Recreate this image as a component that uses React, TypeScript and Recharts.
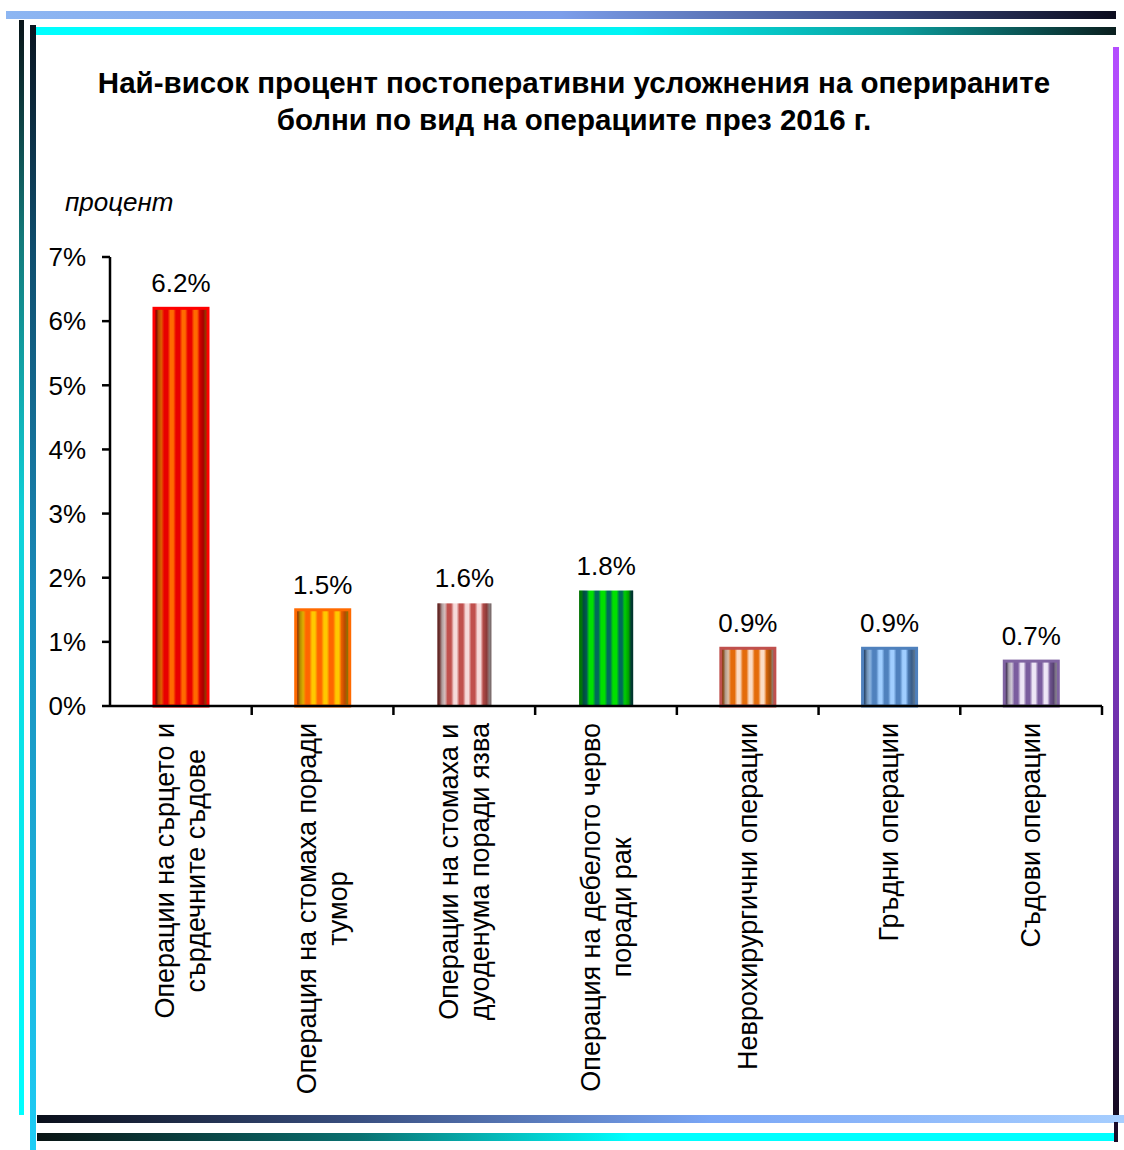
import React from 'react';
import { BarChart, Bar, XAxis, YAxis, LabelList } from 'recharts';

const FONT = '"Liberation Sans", Arial, sans-serif';

const categories = [
  'Операции на сърцето и\nсърдечните съдове',
  'Операция на стомаха поради\nтумор',
  'Операции на стомаха и\nдуоденума поради язва',
  'Операция на дебелото черво\nпоради рак',
  'Неврохирургични операции',
  'Гръдни операции',
  'Съдови операции',
];

// percent of operated patients with complications, 2016
const values = [6.2, 1.5, 1.6, 1.8, 0.9, 0.9, 0.7];

const yTicks = [0, 1, 2, 3, 4, 5, 6, 7];

const titleLines = [
  'Най-висок процент постоперативни усложнения на оперираните',
  'болни по вид на операциите през 2016 г.',
];
const yAxisTitle = 'процент';

// stripe colours per bar: [stripe A, stripe B, border]
const BAR_STYLES = [
  { a: '#E80000', b: '#FF6A00', stroke: '#FF0000' },
  { a: '#FF6600', b: '#FFC800', stroke: '#FF6A00' },
  { a: '#C0504D', b: '#F6DADA', stroke: null },
  { a: '#00E000', b: '#006A5A', stroke: null },
  { a: '#E46C0A', b: '#FBDCC4', stroke: '#C0504D' },
  { a: '#4F81BD', b: '#A0CEFF', stroke: '#4F81BD' },
  { a: '#7A5C9E', b: '#EEE6F6', stroke: '#8064A2' },
];

const data = categories.map((name, i) => ({ name, value: values[i] }));

const LABEL_SIZE = 27;
const LINE_H = 31;
const LABEL_GAP = 17;

let ctx: CanvasRenderingContext2D | null = null;
function textWidth(s: string) {
  if (!ctx && typeof document !== 'undefined') {
    ctx = document.createElement('canvas').getContext('2d');
  }
  if (!ctx) return s.length * 14;
  ctx.font = `${LABEL_SIZE}px ${FONT}`;
  return ctx.measureText(s).width;
}

// category label plus a tick mark at the right edge of the band
function CategoryTick({ x, y, payload }: any) {
  const lines = String(payload.value).split('\n');
  const maxW = Math.max(...lines.map(textWidth));
  const along = -(LABEL_GAP + maxW / 2);
  const half = payload.offset ?? 0;
  return (
    <g transform={`translate(${x},${y})`}>
      <line x1={half} y1={0} x2={half} y2={9} stroke="#000" strokeWidth={2.5} />
      <g transform="rotate(-90)">
        {lines.map((ln, i) => (
          <text
            key={i}
            x={along}
            y={(i - (lines.length - 1) / 2) * LINE_H + 9}
            textAnchor="middle"
            fontSize={LABEL_SIZE}
            fontFamily={FONT}
            fill="#000"
          >
            {ln}
          </text>
        ))}
      </g>
    </g>
  );
}

function StripedBar(props: any) {
  const { x, y, width, height, index } = props;
  const s = BAR_STYLES[index % BAR_STYLES.length];
  const sid = `stripe-${index}`;
  const eid = `edge-${index}`;
  return (
    <g>
      <defs>
        <linearGradient id={sid} x1="0" y1="0" x2="0.22" y2="0" spreadMethod="repeat">
          <stop offset="0" stopColor={s.a} />
          <stop offset="0.15" stopColor={s.a} />
          <stop offset="0.38" stopColor={s.b} />
          <stop offset="0.62" stopColor={s.b} />
          <stop offset="0.85" stopColor={s.a} />
          <stop offset="1" stopColor={s.a} />
        </linearGradient>
        <linearGradient id={eid} x1="0" y1="0" x2="1" y2="0">
          <stop offset="0" stopColor="#000" stopOpacity={0.55} />
          <stop offset="0.18" stopColor="#000" stopOpacity={0} />
          <stop offset="0.82" stopColor="#000" stopOpacity={0} />
          <stop offset="1" stopColor="#000" stopOpacity={0.55} />
        </linearGradient>
      </defs>
      <rect x={x} y={y} width={width} height={height} fill={`url(#${sid})`} />
      <rect x={x} y={y} width={width} height={height} fill={`url(#${eid})`} />
      {s.stroke && (
        <rect
          x={x}
          y={y}
          width={width}
          height={height}
          fill="none"
          stroke={s.stroke}
          strokeWidth={3}
        />
      )}
    </g>
  );
}

function Frame() {
  return (
    <svg
      width={1124}
      height={1150}
      style={{ position: 'absolute', left: 0, top: 0, pointerEvents: 'none' }}
    >
      <defs>
        <linearGradient id="top1" x1="0" y1="0" x2="1" y2="0">
          <stop offset="0" stopColor="#8DB6F2" />
          <stop offset="0.5" stopColor="#7C9EEA" />
          <stop offset="0.78" stopColor="#3C4C86" />
          <stop offset="1" stopColor="#0C0C1E" />
        </linearGradient>
        <linearGradient id="top2" x1="0" y1="0" x2="1" y2="0">
          <stop offset="0" stopColor="#00FFFF" />
          <stop offset="0.55" stopColor="#00F4F4" />
          <stop offset="0.8" stopColor="#0B9C9C" />
          <stop offset="1" stopColor="#0A1E1E" />
        </linearGradient>
        <linearGradient id="left1" x1="0" y1="0" x2="0" y2="1">
          <stop offset="0" stopColor="#0A1418" />
          <stop offset="0.2" stopColor="#147A7A" />
          <stop offset="0.45" stopColor="#10D0D8" />
          <stop offset="1" stopColor="#00FFFF" />
        </linearGradient>
        <linearGradient id="left2" x1="0" y1="0" x2="0" y2="1">
          <stop offset="0" stopColor="#0A1420" />
          <stop offset="0.2" stopColor="#0F4E6E" />
          <stop offset="0.5" stopColor="#1A8AB8" />
          <stop offset="1" stopColor="#1ECDF5" />
        </linearGradient>
        <linearGradient id="right1" x1="0" y1="0" x2="0" y2="1">
          <stop offset="0" stopColor="#B44DFF" />
          <stop offset="0.4" stopColor="#9A40E2" />
          <stop offset="0.75" stopColor="#5A2A92" />
          <stop offset="1" stopColor="#140A20" />
        </linearGradient>
        <linearGradient id="bot1" x1="0" y1="0" x2="1" y2="0">
          <stop offset="0" stopColor="#0A0F1A" />
          <stop offset="0.3" stopColor="#3A5082" />
          <stop offset="0.62" stopColor="#7AA6F6" />
          <stop offset="1" stopColor="#A6CEFF" />
        </linearGradient>
        <linearGradient id="bot2" x1="0" y1="0" x2="1" y2="0">
          <stop offset="0" stopColor="#0A1414" />
          <stop offset="0.3" stopColor="#0A7272" />
          <stop offset="0.55" stopColor="#00FFFF" />
          <stop offset="1" stopColor="#00FFFF" />
        </linearGradient>
      </defs>
      <rect x={6} y={11} width={1110} height={8} fill="url(#top1)" />
      <rect x={35} y={27} width={1081} height={8} fill="url(#top2)" />
      <rect x={19} y={20} width={5} height={1095} fill="url(#left1)" />
      <rect x={30} y={25} width={6} height={1125} fill="url(#left2)" />
      <rect x={1113} y={47} width={6} height={1068} fill="url(#right1)" />
      <rect x={37} y={1115} width={1087} height={8} fill="url(#bot1)" />
      <rect x={37} y={1133} width={1081} height={8} fill="url(#bot2)" />
      <rect x={1114} y={1122} width={4} height={20} fill="#1A0A28" />

      <text textAnchor="middle" fontFamily={FONT} fontWeight="bold" fontSize={29.5} fill="#000">
        <tspan x={574} y={93}>{titleLines[0]}</tspan>
        <tspan x={574} y={130}>{titleLines[1]}</tspan>
      </text>
      <text x={65} y={211} fontFamily={FONT} fontStyle="italic" fontSize={26} fill="#000">
        {yAxisTitle}
      </text>
    </svg>
  );
}

export default function App() {
  return (
    <div style={{ position: 'absolute', left: 0, top: 0, width: 1124, height: 1150, background: '#fff' }}>
      <BarChart
        width={1124}
        height={1150}
        data={data}
        margin={{ top: 257, right: 22, left: 0, bottom: 0 }}
      >
        <XAxis
          dataKey="name"
          height={444}
          interval={0}
          axisLine={{ stroke: '#000', strokeWidth: 2.5 }}
          tickLine={false}
          tickSize={0}
          tickMargin={0}
          tick={<CategoryTick />}
        />
        <YAxis
          domain={[0, 7]}
          ticks={yTicks}
          width={110}
          tickSize={8}
          tickMargin={16}
          tickFormatter={(v: number) => `${v}%`}
          axisLine={{ stroke: '#000', strokeWidth: 2.5 }}
          tickLine={{ stroke: '#000', strokeWidth: 2.5 }}
          tick={{ fill: '#000', fontSize: 26, fontFamily: FONT }}
        />
        <Bar
          dataKey="value"
          barSize={54}
          shape={<StripedBar />}
          isAnimationActive={false}
        >
          <LabelList
            dataKey="value"
            position="top"
            offset={16}
            formatter={(v: any) => `${Number(v).toFixed(1)}%`}
            style={{ fill: '#000', fontSize: 26, fontFamily: FONT }}
          />
        </Bar>
      </BarChart>
      <Frame />
    </div>
  );
}
